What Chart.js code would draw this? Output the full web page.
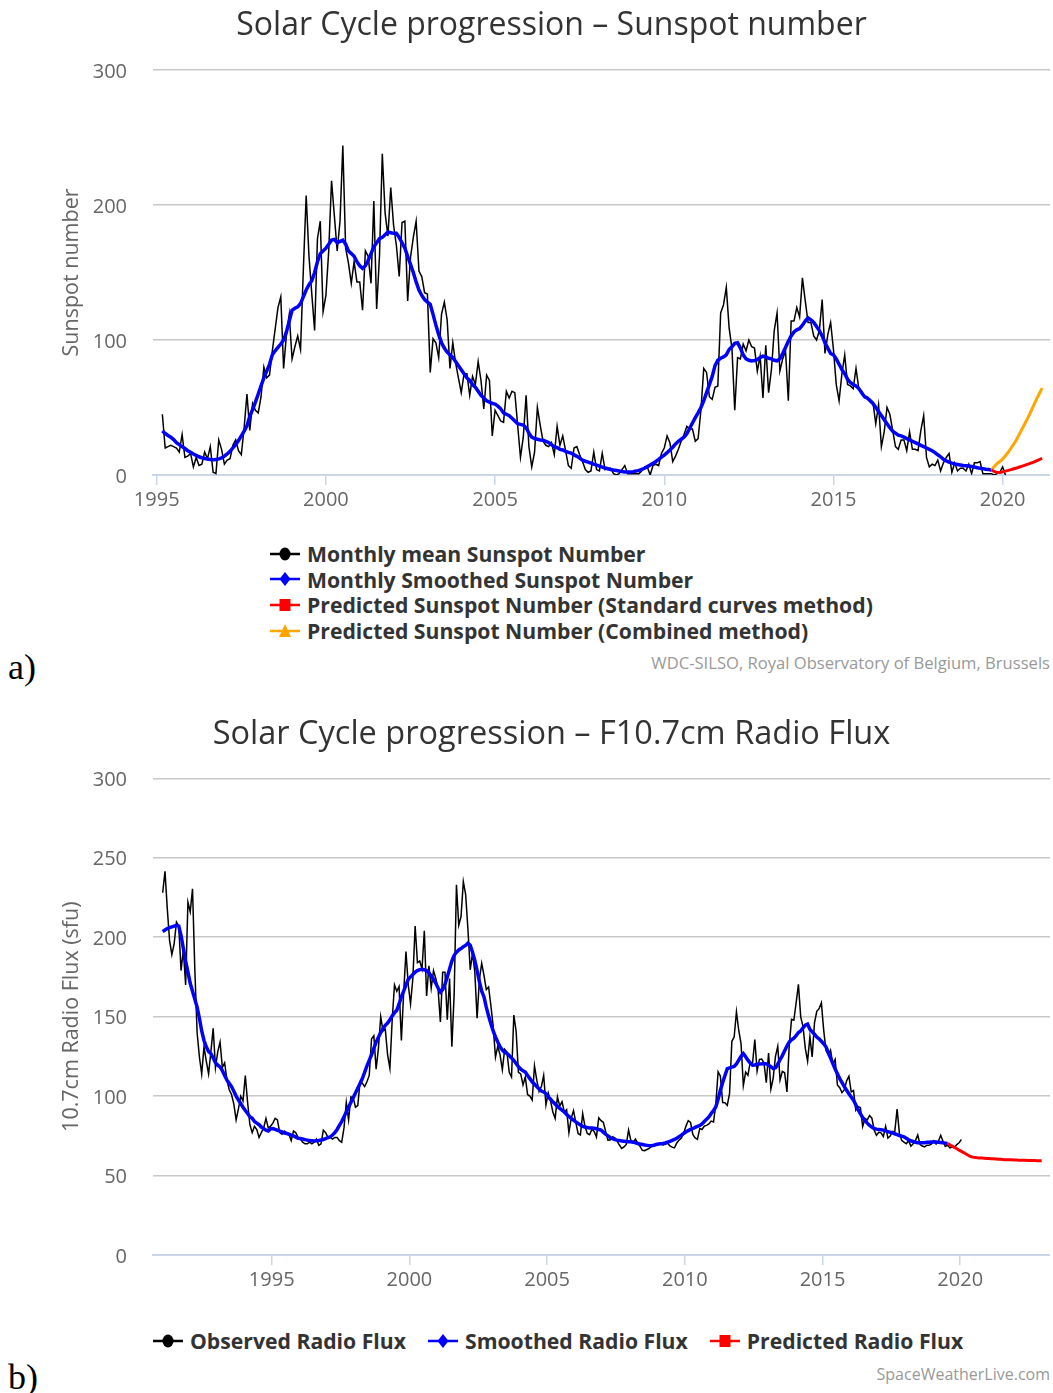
<!DOCTYPE html>
<html>
<head>
<meta charset="utf-8">
<script src="https://cdn.jsdelivr.net/npm/chart.js@4.4.1/dist/chart.umd.min.js"></script>
<style>
  body { margin: 0; width: 1053px; height: 1393px; background: #fff; position: relative; overflow: hidden; font-family: 'Open Sans', sans-serif; }
  canvas { position: absolute; left: 53px; }
  #chartA { top: 0; }
  #chartB { top: 700px; }
  .legend { position: absolute; color: #333; font-weight: bold; font-size: 21.2px; }
  .legend .item { display: flex; align-items: center; height: 25.6px; white-space: nowrap; }
  .legend svg { margin-right: 7px; }
  .legend.row { display: flex; }
  .legend.row .item { margin-right: 22px; }
  .credit { position: absolute; right: 3px; color: #999; font-size: 16.6px; line-height: 20px; }
  .panel { position: absolute; left: 8px; font-family: 'Liberation Serif', serif; font-size: 36px; line-height: 36px; color: #000; }
</style>
</head>
<body>
<canvas id="chartA" width="997" height="520"></canvas>
<div class="legend" id="legendA" style="left:270px; top:541px;"></div>
<div class="credit" style="top:653px;">WDC-SILSO, Royal Observatory of Belgium, Brussels</div>
<div class="panel" style="top:649px;">a)</div>

<canvas id="chartB" width="997" height="600"></canvas>
<div class="legend row" id="legendB" style="left:153px; top:1328px;"></div>
<div class="credit" style="top:1364px; font-size:16px;">SpaceWeatherLive.com</div>
<div class="panel" style="top:1359px;">b)</div>

<script>
// ---- a) sunspot number, monthly, first value = March 1995
const sunspotStart = [1995, 3];
const sunspotMonthly = [
  45, 20, 21, 22, 21, 20, 17, 30, 13, 14,
  16, 6, 13, 7, 8, 17, 12, 21, 2, 1, 26, 19,
  8, 11, 12, 22, 26, 18, 15, 35, 60, 33, 53, 48,
  46, 58, 80, 72, 74, 92, 108, 124, 132, 79, 104, 119,
  86, 95, 103, 93, 152, 207, 162, 134, 107, 175, 188, 121,
  133, 166, 218, 192, 166, 188, 244, 168, 157, 142, 158, 143,
  143, 122, 166, 162, 142, 203, 123, 162, 238, 194, 177, 213,
  185, 170, 147, 187, 188, 129, 161, 176, 188, 151, 147, 135,
  134, 76, 101, 98, 87, 119, 128, 115, 79, 98, 83, 72,
  61, 75, 75, 59, 73, 67, 84, 70, 49, 74, 70, 29,
  48, 44, 40, 39, 62, 57, 62, 61, 37, 13, 28, 59,
  21, 6, 17, 50, 37, 25, 22, 21, 24, 15, 36, 22,
  29, 18, 7, 5, 20, 21, 15, 10, 4, 2, 3, 17,
  4, 3, 16, 4, 5, 5, 1, 0, 1, 4, 7, 1,
  1, 1, 1, 1, 3, 6, 6, 0, 7, 8, 7, 16,
  20, 29, 24, 10, 14, 19, 25, 30, 36, 34, 34, 25,
  27, 48, 79, 76, 58, 56, 65, 66, 120, 126, 139, 109,
  94, 48, 87, 86, 97, 92, 100, 95, 94, 77, 88, 57,
  96, 61, 78, 107, 120, 77, 86, 92, 55, 114, 114, 124,
  117, 146, 129, 113, 113, 103, 100, 107, 130, 90, 104, 113,
  93, 67, 55, 75, 89, 67, 66, 64, 79, 64, 62, 58,
  57, 56, 54, 38, 52, 21, 32, 50, 45, 33, 21, 19,
  26, 26, 18, 32, 19, 19, 18, 33, 44, 13, 6, 8,
  7, 11, 3, 9, 13, 16, 2, 9, 3, 5, 5, 3,
  8, 1, 9, 9, 10, 1, 1, 1, 1, 0, 1, 2,
  6, 0
];
const sunspotSmoothed = [
  32.7, 30.8, 29.3, 28.0, 26.2, 24.0, 22.5, 21.0, 19.6, 18.0,
  16.8, 15.5, 14.5, 13.5, 12.8, 12.2, 11.8, 11.5, 11.3, 11.4, 11.9, 12.6,
  14.0, 15.6, 17.5, 20.0, 22.5, 25.5, 29.0, 32.5, 36.5, 43.5, 48.5, 54.0,
  60, 66, 72, 77, 82, 89, 92, 94.5, 97, 100, 106, 114,
  122, 123.5, 124.5, 127, 132, 137, 141, 144, 150, 158, 164, 166,
  168, 171, 174, 174.5, 172, 173, 174, 171, 166, 164, 162, 158,
  155, 153, 155, 159, 164, 169, 172, 175, 176, 178, 180, 179.5,
  179, 179, 176, 172, 168, 162, 156, 150, 143, 137, 133, 130,
  128, 126.5, 119, 111, 104, 98, 94, 91, 89, 87, 84, 81,
  78, 75, 72, 70, 67, 65, 62, 59, 57, 55, 54, 53,
  52.5, 51, 49, 46, 45, 44, 42, 40, 38, 37.5, 37, 35,
  31, 28, 27, 26.5, 26, 25.8, 25, 24, 22.5, 21, 20.3, 19,
  18.5, 17.5, 16.8, 16.2, 15, 13.8, 12.5, 11, 10.2, 9.6, 8.8, 8.0,
  7.3, 6.6, 5.8, 5.2, 4.6, 4.1, 3.7, 3.4, 3.0, 2.6, 2.3, 2.2,
  2.3, 2.5, 2.9, 3.4, 4.1, 5.0, 6.2, 7.4, 8.6, 10.0, 11.5, 13.2,
  14.8, 16.5, 18.5, 20.6, 23.0, 25.0, 26.5, 28.0, 30.5, 34.5, 38.5, 42.5,
  46, 50, 55, 61, 67, 73, 81, 85, 86.5, 87.5, 89, 93,
  95, 97.5, 98, 94, 89, 86, 85, 84.5, 84.8, 85.5, 87, 88,
  87.5, 86.5, 86, 85, 84.6, 86, 90, 94.5, 99, 103, 106, 107.5,
  108.5, 111, 114, 116.4, 115, 113, 110, 107, 103, 98, 94, 90,
  89, 86, 82, 78, 75, 71, 68.5, 67, 66, 64, 61, 58,
  57, 55, 53, 50, 47, 44, 41, 38, 35, 32.5, 31, 29.5,
  29, 28, 27, 26, 25, 24, 23, 22, 21, 20, 19, 18,
  16.6, 15, 13.5, 11.6, 10.5, 9.6, 8.8, 8.2, 7.8, 7.4, 7.0, 6.9,
  6.7, 6.3, 5.9, 5.4, 5.0, 4.7, 4.3, 4.0, 3.7
];
// predictions, first value = September 2019
const sunspotPredStart = [2019, 9];
const sunspotPredStandard = [3.7, 2.6, 1.8, 1.9, 2.4, 2.9, 3.4, 4.0, 4.6, 5.2, 5.9, 6.6, 7.3, 8.0, 8.8, 9.6, 10.5, 11.4, 12.4];
const sunspotPredCombined = [3.7, 6.2, 8.4, 10.0, 11.8, 14.3, 17.0, 20.0, 23.0, 26.5, 30.5, 34.5, 38.5, 42.5, 47.0, 51.5, 56.0, 60.2, 64.4];
const sunspotYears = [1995, 2000, 2005, 2010, 2015, 2020];

// ---- b) F10.7 radio flux, monthly, first value = January 1991
const fluxStart = [1991, 1];
const fluxObserved = [
  228, 241.5, 218, 198, 189, 196, 209.5, 207, 179, 192, 170, 222,
  216, 230.5, 180, 140, 124.6, 114, 131, 122, 114, 128, 142.6, 118,
  128, 134, 118, 121, 110, 104, 101, 95, 85, 92, 100, 97,
  113, 96, 82, 77, 81, 79, 74, 77, 80, 86, 80, 81,
  83, 86, 85, 77, 76, 78, 77, 76, 72, 78, 77, 74,
  73, 71, 70, 70, 71, 70, 71, 73, 69, 70, 78.6, 77,
  74, 74, 73, 74, 74, 72, 71, 80, 96, 85, 99.5, 99,
  93, 94, 109, 108, 106, 109, 113, 136, 138, 117, 130, 150,
  141, 142, 126, 117.5, 148, 170, 166, 169, 135, 165, 191, 170,
  158, 174, 207, 184, 185, 180, 204, 163, 182, 168, 179, 174,
  167, 146.6, 178, 178, 148, 174, 131, 164, 233, 207.5, 213, 235,
  227, 205, 179.5, 190, 178, 149, 173.5, 183.6, 176, 167, 168.7, 157,
  144, 124.5, 131.4, 126, 116.6, 129.4, 127.7, 115, 112, 151, 140.8, 115,
  114, 107, 112, 101, 100, 97.5, 119, 110, 103, 106, 113, 94.5,
  102, 97, 90, 86, 99.5, 93.7, 96.5, 90, 91.5, 77, 86, 90.8,
  83.4, 76.5, 75.5, 89, 81, 76.5, 75.7, 79, 77.8, 74.3, 86.3, 84.5,
  83.5, 77.8, 72.3, 72.4, 74.5, 73.7, 71.6, 69.2, 67.1, 68, 69.6, 78.6,
  72, 71.2, 72.9, 70.3, 68.4, 65.9, 65.7, 66.4, 67.1, 68.3, 68.6, 69.2,
  69.8, 70, 69.2, 69.7, 70.5, 68.6, 67.9, 67.4, 70.5, 72.3, 73.6, 76.7,
  81.1, 84.6, 83.5, 75.9, 73.7, 72.8, 79.6, 79, 81.1, 81.6, 82.5, 84.3,
  83.7, 94.5, 115.3, 112.6, 95.9, 95.8, 94.2, 101.7, 134.5, 137.2, 153.1, 141.3,
  133.1, 106.7, 115.1, 113.1, 121.5, 120.5, 135.6, 115.7, 123.1, 123.3, 120.9, 108.4,
  127.1, 104.4, 111.2, 125, 131.3, 110.2, 115.6, 114.7, 102.6, 132.1, 148.3, 147.7,
  158.6, 170.3, 149.9, 143.9, 130, 122, 137.3, 124.7, 146.1, 153.4, 155, 158.7,
  141.7, 128.8, 126, 128.9, 120, 123.1, 107, 105.3, 102.2, 104, 109.6, 112.5,
  102.7, 103.5, 91.2, 93.4, 92.8, 80.9, 85.9, 85, 87.8, 86.1, 78.7, 75.4,
  77.2, 76.9, 74.6, 80.9, 73.6, 74.8, 77.7, 77.9, 91.8, 76.5, 72.2, 71,
  70, 71.9, 68.5, 70, 72, 75.5, 69.5, 68.6, 68, 69.1, 69, 69.9,
  71.9, 69.9, 71.6, 75.3, 71.6, 68.3, 69.1, 67.4, 68, 67.6, 69.5, 70.6,
  72.7
];
const fluxSmoothed = [
  203.5, 204.5, 205.5, 206, 206.5, 207, 207.5, 207, 201, 193, 185, 178,
  171, 166, 161, 156, 149, 141, 135, 131, 128, 126.8, 124, 121,
  119.5, 118.4, 116, 113, 110, 108, 106, 103, 100, 97.5, 95.3, 93,
  91, 89, 87, 86, 84, 83, 82, 80.5, 79.5, 78.5, 78, 79.5,
  79.6, 79, 78.5, 78, 77.5, 76.8, 76.5, 76, 75.5, 75, 74.2, 73.5,
  73.3, 73, 72.6, 72.3, 72, 71.9, 71.8, 71.9, 72.1, 72.4, 72.7, 73.3,
  73.8, 74.4, 75.5, 77, 79, 81.5, 84, 87, 90, 93.2, 96, 99,
  102, 105, 108, 111, 115, 119, 122.5, 126, 130, 134, 137, 140,
  142.5, 144.5, 146, 148, 150.5, 152.5, 154, 158, 162.4, 166, 170, 173.5,
  175, 176.6, 178, 179, 179.6, 179.8, 179.5, 179, 177.5, 175.5, 173.5, 171,
  168, 165.5, 167, 170.5, 175, 180, 185, 188.6, 190.5, 192, 192.8, 194,
  194.8, 196.3, 195, 190.5, 185.4, 179, 172, 166, 162.4, 156, 150.5, 145.6,
  141, 137.2, 134, 131, 129, 127.5, 126.8, 125.5, 124, 122.5, 120.5, 118.5,
  117, 116, 115.2, 113, 111, 109, 107.5, 106, 104.5, 103.2, 102.6, 101.5,
  99.5, 98, 96.4, 95, 93.5, 92.3, 91.2, 90, 88.5, 87.2, 86, 84.9,
  83.8, 82.8, 81.8, 81, 80.5, 80.2, 80, 80, 79.8, 79.5, 79, 78.6,
  77.3, 76, 75, 74, 73.2, 72.6, 72.3, 72, 71.8, 71.6, 71.4, 71.3,
  71.2, 71, 70.6, 70.2, 69.8, 69.5, 69.2, 69, 68.7, 68.8, 69.1, 69.5,
  69.8, 70, 70.2, 70.5, 71, 71.5, 72.1, 72.7, 73.5, 74.5, 75.4, 76.5,
  77.5, 78.3, 79, 79.6, 80.3, 80.9, 81.5, 82.5, 84, 85.5, 86.9, 89,
  91, 93.2, 98, 103.7, 108.5, 113, 117.3, 117.8, 118.2, 118.6, 120.2, 122.6,
  125, 126.8, 124.8, 122.6, 120.8, 119.4, 119.6, 120, 120.2, 120.3, 120.5, 120.3,
  119.5, 118.5, 117.3, 117.8, 120, 123, 125.5, 128.5, 131.5, 134, 135.5, 136.5,
  138, 140, 141, 143, 144.6, 145.3, 142, 140.4, 139, 137.2, 136, 134.5,
  133, 131, 127.5, 124, 120.5, 117, 114, 111, 108.5, 106, 103.7, 101.5,
  99.5, 97.4, 94.5, 91.5, 89, 86.5, 84.5, 83, 81.5, 80.5, 79.6, 79.2,
  79, 78.8, 78.6, 78.1, 77.6, 77.2, 76.9, 76.3, 75.8, 75.2, 74.8, 74.4,
  73.5, 72.5, 71.9, 71.4, 71, 70.7, 70.6, 70.6, 70.7, 70.9, 71, 71.1,
  71.2, 71.1, 71, 70.8, 70.6, 70.4, 70.2
];
// prediction, first value = July 2019
const fluxPredStart = [2019, 7];
const fluxPredicted = [
  70.2, 69.3, 68.5, 67.7, 66.9, 66.0,
  65.2, 64.4, 63.6, 62.8, 62.0, 61.6, 61.4, 61.2, 61.1, 61.0, 60.9, 60.8,
  60.7, 60.6, 60.5, 60.4, 60.3, 60.2, 60.1, 60.0, 60.0, 59.9, 59.9, 59.8,
  59.8, 59.7, 59.7, 59.6, 59.6, 59.5, 59.5, 59.4, 59.4, 59.3, 59.3, 59.3
];
const fluxYears = [1995, 2000, 2005, 2010, 2015, 2020];

// month index -> decimal year (offset: 0 = start of month, 0.5 = middle)
function monthPoints(start, values, offset) {
  return values.map((v, i) => ({ x: start[0] + (start[1] - 1 + i + offset) / 12, y: v }));
}

function series(label, color, width, points, order) {
  return {
    label: label, data: points, borderColor: color, backgroundColor: color,
    borderWidth: width, pointRadius: 0, pointHoverRadius: 0, tension: 0,
    fill: false, order: order, spanGaps: true
  };
}

const tickFont = { family: 'Open Sans', size: 20 };

// canvas sits at left 53 and ends at the plot's right edge, so the title centres like the original
function panelChart(canvas, cfg) {
  return new Chart(canvas, {
    type: 'line',
    data: { datasets: cfg.datasets },
    options: {
      responsive: false,
      animation: false,
      events: [],
      layout: { padding: 0 },
      plugins: {
        legend: { display: false },
        tooltip: { enabled: false },
        title: {
          display: true, text: cfg.title, color: '#333333',
          font: { family: 'Open Sans', size: cfg.titleSize, weight: 'normal' },
          padding: cfg.titlePadding
        }
      },
      scales: {
        x: {
          type: 'linear', min: cfg.xMin, max: cfg.xMax,
          afterBuildTicks: axis => { axis.ticks = cfg.years.map(v => ({ value: v })); },
          afterFit: s => { s.height = 45; },
          ticks: { callback: v => String(v), color: '#666666', font: tickFont, padding: 3, autoSkip: false, maxRotation: 0 },
          grid: { drawOnChartArea: false, drawTicks: true, tickLength: 10, color: '#ccd6eb', lineWidth: 1.5 },
          border: { display: true, color: '#ccd6eb', width: 2 }
        },
        y: {
          min: 0, max: 300,
          afterFit: s => { s.width = 100; },
          ticks: { stepSize: cfg.yStep, color: '#666666', font: tickFont, padding: 26, labelOffset: 2 },
          grid: { color: '#c8c8c8', lineWidth: 1.5, drawTicks: false },
          border: { display: false },
          title: {
            display: true, text: cfg.yTitle, color: '#666666',
            font: { family: 'Open Sans', size: 21.5 }, padding: { top: 6, bottom: 0 }
          }
        }
      }
    }
  });
}

function markerSvg(shape, color) {
  let m;
  if (shape === 'circle') m = '<ellipse cx="15" cy="9" rx="5.5" ry="6.5" fill="' + color + '"/>';
  else if (shape === 'diamond') m = '<path d="M15 2 L20.5 9 L15 16 L9.5 9 Z" fill="' + color + '"/>';
  else if (shape === 'square') m = '<rect x="9.5" y="3" width="11" height="12" fill="' + color + '"/>';
  else m = '<path d="M15 2 L21 15 L9 15 Z" fill="' + color + '"/>';
  return '<svg width="30" height="18" viewBox="0 0 30 18"><line x1="0" y1="9" x2="30" y2="9" stroke="' +
    color + '" stroke-width="2.5"/>' + m + '</svg>';
}

function htmlLegend(el, chart, markers) {
  chart.data.datasets.forEach((ds, i) => {
    const item = document.createElement('div');
    item.className = 'item';
    item.innerHTML = markerSvg(markers[i], ds.borderColor) + '<span>' + ds.label + '</span>';
    el.appendChild(item);
  });
}

const chartA = panelChart(document.getElementById('chartA'), {
  title: 'Solar Cycle progression \u2013 Sunspot number',
  titleSize: 32,
  titlePadding: { top: 7, bottom: 24.6 },
  yTitle: 'Sunspot number',
  yStep: 100,
  xMin: 1994.89, xMax: 2021.40,
  years: sunspotYears,
  datasets: [
    series('Monthly mean Sunspot Number', '#000000', 1.5, monthPoints(sunspotStart, sunspotMonthly, 0), 2),
    series('Monthly Smoothed Sunspot Number', '#0000ff', 3.5, monthPoints(sunspotStart, sunspotSmoothed, 0), 1),
    series('Predicted Sunspot Number (Standard curves method)', '#ff0000', 3, monthPoints(sunspotPredStart, sunspotPredStandard, 0), 0),
    series('Predicted Sunspot Number (Combined method)', '#ffa500', 3, monthPoints(sunspotPredStart, sunspotPredCombined, 0), 0)
  ]
});
htmlLegend(document.getElementById('legendA'), chartA, ['circle', 'diamond', 'square', 'triangle']);

const chartB = panelChart(document.getElementById('chartB'), {
  title: 'Solar Cycle progression \u2013 F10.7cm Radio Flux',
  titleSize: 32.5,
  titlePadding: { top: 15, bottom: 24.3 },
  yTitle: '10.7cm Radio Flux (sfu)',
  yStep: 50,
  xMin: 1990.69, xMax: 2023.26,
  years: fluxYears,
  datasets: [
    series('Observed Radio Flux', '#000000', 1.5, monthPoints(fluxStart, fluxObserved, 0.5), 2),
    series('Smoothed Radio Flux', '#0000ff', 3.5, monthPoints(fluxStart, fluxSmoothed, 0.5), 1),
    series('Predicted Radio Flux', '#ff0000', 3, monthPoints(fluxPredStart, fluxPredicted, 0.5), 0)
  ]
});
htmlLegend(document.getElementById('legendB'), chartB, ['circle', 'diamond', 'square']);
</script>
</body>
</html>
